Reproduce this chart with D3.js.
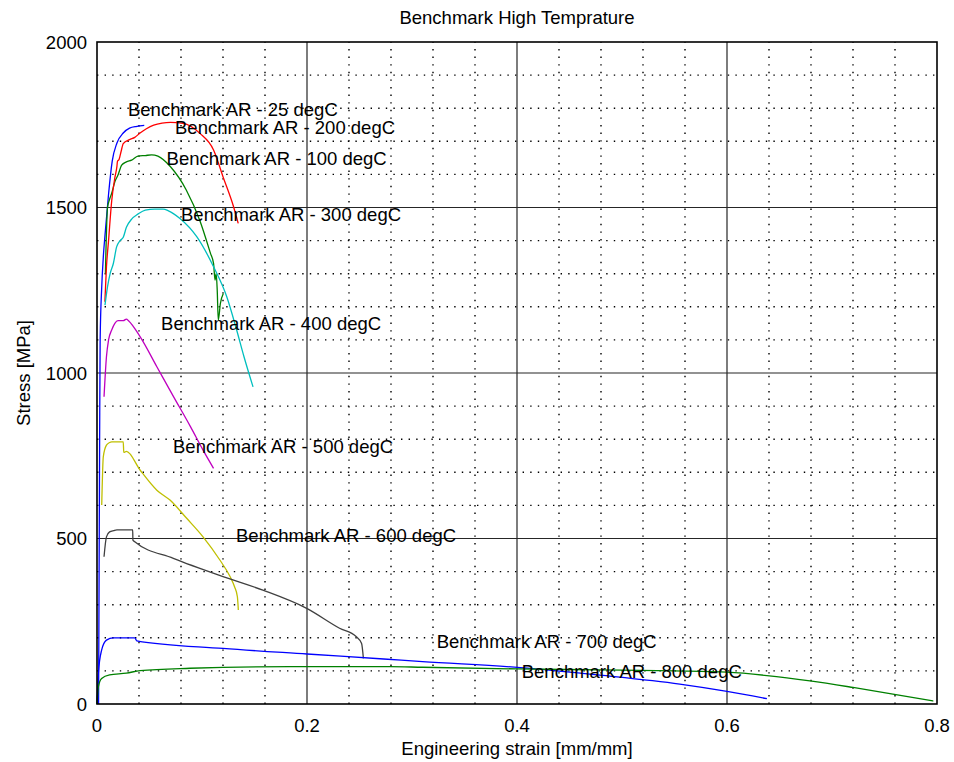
<!DOCTYPE html>
<html>
<head>
<meta charset="utf-8">
<script src="https://cdn.jsdelivr.net/npm/d3@7"></script>
<style>
  html, body { margin: 0; padding: 0; background: #fff; }
  svg { display: block; }
  text { font-family: "Liberation Sans", Arial, Helvetica, sans-serif; fill: #000; }
</style>
</head>
<body>
<svg id="chart" width="954" height="762"></svg>
<script>
// Stress–strain curves, one pair of arrays per test temperature
const strain25  = [0.0015, 0.002, 0.0025, 0.003, 0.0045, 0.006, 0.008, 0.011, 0.0145, 0.019, 0.025, 0.031, 0.038, 0.045];
const stress25  = [0, 400, 800, 1100, 1260, 1350, 1430, 1540, 1640, 1695, 1725, 1740, 1745, 1748];

const strain100 = [0.008, 0.010, 0.012, 0.014, 0.017, 0.020, 0.0235, 0.028, 0.033, 0.039, 0.046, 0.052, 0.058, 0.070, 0.085, 0.098, 0.108, 0.111, 0.1124, 0.1135, 0.1145, 0.1155, 0.1175, 0.1203];
const stress100 = [1300, 1500, 1525, 1543, 1578, 1598, 1628, 1638, 1643, 1655, 1657, 1659, 1655, 1623, 1553, 1460, 1362, 1331, 1281, 1300, 1250, 1160, 1210, 1240];

const strain200 = [0.0075, 0.009, 0.011, 0.014, 0.017, 0.019, 0.0195, 0.021, 0.023, 0.025, 0.031, 0.036, 0.041, 0.047, 0.054, 0.062, 0.070, 0.082, 0.098, 0.111, 0.120, 0.130, 0.1345];
const stress200 = [1215, 1320, 1400, 1520, 1590, 1625, 1640, 1645, 1670, 1693, 1705, 1712, 1725, 1738, 1749, 1755, 1757, 1754, 1724, 1674, 1593, 1503, 1452];

const strain300 = [0.0076, 0.010, 0.0125, 0.0155, 0.0187, 0.022, 0.025, 0.028, 0.033, 0.039, 0.046, 0.055, 0.063, 0.068, 0.079, 0.095, 0.111, 0.1235, 0.133, 0.140, 0.1486];
const stress300 = [1205, 1260, 1300, 1330, 1381, 1400, 1410, 1440, 1465, 1480, 1492, 1495, 1495, 1490, 1467, 1412, 1321, 1231, 1130, 1049, 958];

const strain400 = [0.0067, 0.009, 0.011, 0.014, 0.017, 0.020, 0.025, 0.028, 0.030, 0.041, 0.057, 0.073, 0.089, 0.101, 0.111];
const stress400 = [928, 1049, 1100, 1130, 1150, 1158, 1158, 1163, 1158, 1110, 1019, 928, 838, 767, 712];

const strain500 = [0.0045, 0.006, 0.009, 0.012, 0.014, 0.025, 0.0255, 0.028, 0.041, 0.057, 0.0695, 0.0854, 0.101, 0.117, 0.1267, 0.131, 0.1337, 0.1346];
const stress500 = [601, 747, 782, 790, 792, 792, 760, 763, 707, 646, 616, 561, 505, 435, 385, 354, 324, 284];

const strain600 = [0.0067, 0.009, 0.012, 0.016, 0.019, 0.034, 0.0342, 0.036, 0.0727, 0.120, 0.158, 0.1997, 0.231, 0.247, 0.252, 0.2537];
const stress600 = [445, 505, 520, 524, 526, 526, 495, 490, 440, 385, 344, 289, 229, 203, 183, 138];

const strain700 = [0, 0.0013, 0.0044, 0.009, 0.0155, 0.036, 0.0378, 0.120, 0.200, 0.273, 0.310, 0.403, 0.479, 0.555, 0.600, 0.638];
const stress700 = [0, 93, 163, 193, 200, 200, 191, 168, 151, 136, 128, 110, 87, 60, 38, 16];

const strain800 = [0, 0.0013, 0.0044, 0.012, 0.028, 0.041, 0.0886, 0.184, 0.279, 0.310, 0.400, 0.479, 0.550, 0.600, 0.638, 0.679, 0.720, 0.758, 0.7965];
const stress800 = [0, 52, 77, 88, 93, 101, 108, 113, 113, 111, 106, 103, 100, 96, 86, 70, 50, 30, 9];

// Curve labels and where they sit (data coordinates)
const labelText = ["Benchmark AR - 25 degC", "Benchmark AR - 100 degC", "Benchmark AR - 200 degC",
                   "Benchmark AR - 300 degC", "Benchmark AR - 400 degC", "Benchmark AR - 500 degC",
                   "Benchmark AR - 600 degC", "Benchmark AR - 700 degC", "Benchmark AR - 800 degC"];
const labelX = [0.0295, 0.0663, 0.0743, 0.080, 0.061, 0.0724, 0.1324, 0.3235, 0.4045];
const labelY = [1797, 1648, 1742, 1480, 1151, 779, 511, 188, 98];

// Axis ticks
const xTicks = [0, 0.2, 0.4, 0.6, 0.8];
const xTickLabels = ["0", "0.2", "0.4", "0.6", "0.8"];
const yTicks = [0, 500, 1000, 1500, 2000];
const yTickLabels = ["0", "500", "1000", "1500", "2000"];

const colors = ["#0000ff", "#008000", "#ff0000", "#00bfbf", "#bf00bf", "#bfbf00", "#404040", "#0000ff", "#008000"];

const series = [
  [strain25, stress25], [strain100, stress100], [strain200, stress200],
  [strain300, stress300], [strain400, stress400], [strain500, stress500],
  [strain600, stress600], [strain700, stress700], [strain800, stress800]
];

const svg = d3.select("#chart");
const plotL = 97, plotR = 937, plotT = 42, plotB = 704;
const x = d3.scaleLinear().domain([0, 0.8]).range([plotL, plotR]);
const y = d3.scaleLinear().domain([0, 2000]).range([plotB, plotT]);
const FS = "18.5px";

// Minor dotted grid
const g = svg.append("g");
const minorX = d3.range(1, 20).map(i => i * 0.04).filter(v => Math.abs(v / 0.2 - Math.round(v / 0.2)) > 1e-6);
const minorY = d3.range(1, 20).map(i => i * 100).filter(v => v % 500 !== 0);
g.selectAll("line.mx").data(minorX).enter().append("line")
  .attr("x1", d => x(d)).attr("x2", d => x(d)).attr("y1", plotB).attr("y2", plotT)
  .attr("stroke", "#000").attr("stroke-width", 1.4).attr("stroke-dasharray", "1.4,6.2");
g.selectAll("line.my").data(minorY).enter().append("line")
  .attr("x1", plotL).attr("x2", plotR).attr("y1", d => y(d)).attr("y2", d => y(d))
  .attr("stroke", "#000").attr("stroke-width", 1.4).attr("stroke-dasharray", "1.4,6.2");

// Major solid grid
g.selectAll("line.Mx").data(xTicks.slice(1, -1)).enter().append("line")
  .attr("x1", d => x(d)).attr("x2", d => x(d)).attr("y1", plotB).attr("y2", plotT)
  .attr("stroke", "#262626").attr("stroke-width", 1.2);
g.selectAll("line.My").data(yTicks.slice(1, -1)).enter().append("line")
  .attr("x1", plotL).attr("x2", plotR).attr("y1", d => y(d)).attr("y2", d => y(d))
  .attr("stroke", "#262626").attr("stroke-width", 1.2);

// Curves
const line = d3.line().x(d => x(d[0])).y(d => y(d[1])).curve(d3.curveMonotoneX);
series.forEach((s, i) => {
  const pts = s[0].map((v, k) => [v, s[1][k]]);
  svg.append("path").datum(pts).attr("d", line)
    .attr("fill", "none").attr("stroke", colors[i]).attr("stroke-width", 1.3)
    .attr("stroke-linejoin", "round");
});

// Plot frame
svg.append("rect").attr("x", plotL).attr("y", plotT).attr("width", plotR - plotL).attr("height", plotB - plotT)
  .attr("fill", "none").attr("stroke", "#000").attr("stroke-width", 1.6);

// Curve labels
labelText.forEach((t, i) => {
  svg.append("text").attr("x", x(labelX[i])).attr("y", y(labelY[i])).attr("dy", "0.36em")
    .attr("font-size", FS).text(t);
});

// Tick labels
svg.selectAll("text.xt").data(xTicks).enter().append("text")
  .attr("x", d => x(d)).attr("y", 732).attr("text-anchor", "middle").attr("font-size", FS)
  .text((d, i) => xTickLabels[i]);
svg.selectAll("text.yt").data(yTicks).enter().append("text")
  .attr("x", 87).attr("y", d => y(d)).attr("dy", "0.36em").attr("text-anchor", "end").attr("font-size", FS)
  .text((d, i) => yTickLabels[i]);

// Title and axis titles
svg.append("text").attr("x", (plotL + plotR) / 2).attr("y", 24).attr("text-anchor", "middle")
  .attr("font-size", FS).text("Benchmark High Temprature");
svg.append("text").attr("x", (plotL + plotR) / 2).attr("y", 755).attr("text-anchor", "middle")
  .attr("font-size", FS).text("Engineering strain [mm/mm]");
svg.append("text").attr("transform", `translate(30,${(plotT + plotB) / 2}) rotate(-90)`)
  .attr("text-anchor", "middle").attr("font-size", FS).text("Stress [MPa]");
</script>
</body>
</html>
